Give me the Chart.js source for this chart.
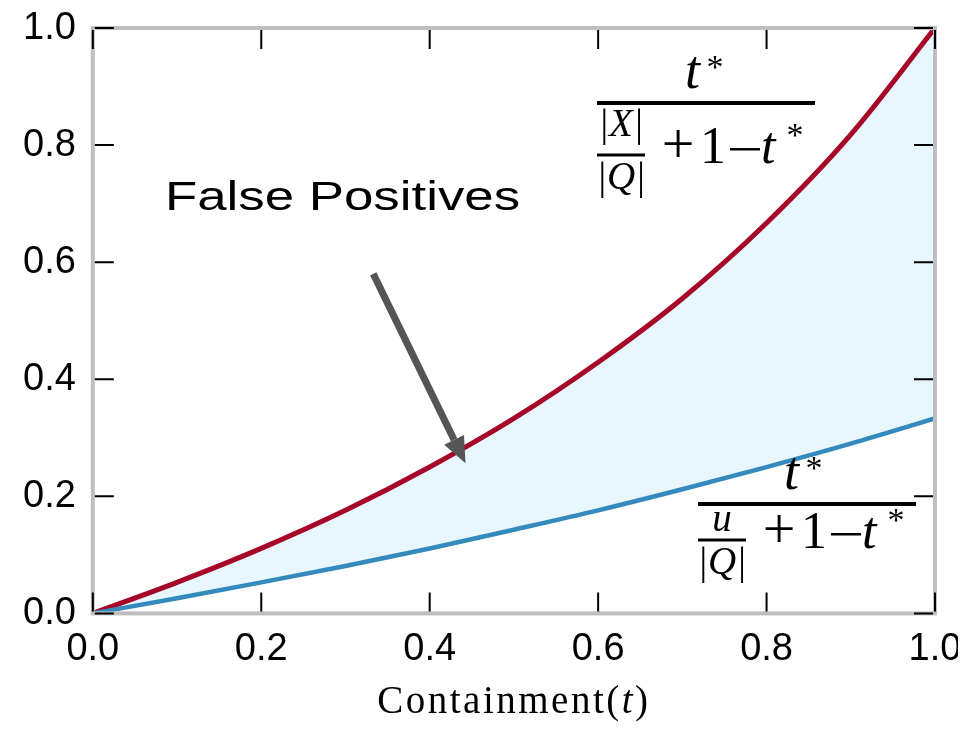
<!DOCTYPE html>
<html>
<head>
<meta charset="utf-8">
<script src="https://cdn.jsdelivr.net/npm/chart.js@4.4.1/dist/chart.umd.min.js"></script>
<style>
  html, body { margin: 0; padding: 0; background: #fff; }
  #wrap { width: 958px; height: 732px; overflow: hidden; }
</style>
</head>
<body>
<div id="wrap"><canvas id="chart" width="1000" height="732"></canvas></div>
<script>
// containment values
const containment = [0.0, 0.1, 0.2, 0.3, 0.4, 0.5, 0.6, 0.7, 0.8, 0.9, 1.0];
const upperBound = [0.0, 0.053, 0.111, 0.176, 0.25, 0.333, 0.429, 0.538, 0.667, 0.818, 1.0];
const lowerBound = [0.0, 0.026, 0.053, 0.081, 0.111, 0.143, 0.176, 0.212, 0.25, 0.29, 0.333];
const tickValues = [0.0, 0.2, 0.4, 0.6, 0.8, 1.0];

const RED = '#A60628';
const BLUE = '#348ABD';
const FILL = '#E8F7FD';
const FRAME = '#BEBEBE';
const SERIF = '"Liberation Serif", "DejaVu Serif", serif';

function pts(ys) {
  return containment.map(function (x, i) { return { x: x, y: ys[i] }; });
}

// frame + inward ticks on all four sides, like the matplotlib style
const framePlugin = {
  id: 'frame',
  afterDatasetsDraw: function (chart) {
    const ctx = chart.ctx, a = chart.chartArea;
    const xs = chart.scales.x, ys = chart.scales.y;
    ctx.save();
    ctx.strokeStyle = FRAME;
    ctx.lineWidth = 4;
    ctx.strokeRect(a.left, a.top, a.right - a.left, a.bottom - a.top);
    ctx.strokeStyle = '#000';
    ctx.lineWidth = 2;
    const len = 19;
    ctx.beginPath();
    tickValues.forEach(function (v) {
      const px = xs.getPixelForValue(v);
      ctx.moveTo(px, a.bottom - 2); ctx.lineTo(px, a.bottom - 2 - len);
      ctx.moveTo(px, a.top + 2); ctx.lineTo(px, a.top + 2 + len);
      const py = ys.getPixelForValue(v);
      ctx.moveTo(a.left + 2, py); ctx.lineTo(a.left + 2 + len, py);
      ctx.moveTo(a.right - 2, py); ctx.lineTo(a.right - 2 - len, py);
    });
    ctx.stroke();
    ctx.restore();
  }
};

function txt(ctx, s, x, y, font, align) {
  ctx.font = font;
  ctx.textAlign = align || 'left';
  ctx.fillText(s, x, y);
}

// t* / (small + 1 - t*), laid out glyph by glyph
function formula(ctx, left, bar, small, smallBase, smallBar, qBase, denBase, shift) {
  ctx.fillStyle = '#000';
  ctx.fillRect(left, bar - 2, 218, 4);
  txt(ctx, 't', left + 88 - shift, bar - 15, 'italic 54px ' + SERIF);
  txt(ctx, '*', left + 118 - shift, bar - 25, '34px ' + SERIF, 'center');
  ctx.fillRect(left, smallBar - 1.5, 48, 3);
  txt(ctx, small, left + 24, smallBase, 'italic 39px ' + SERIF, 'center');
  txt(ctx, '|Q|', left + 24, qBase, 'italic 39px ' + SERIF, 'center');
  txt(ctx, '+', left + 81, denBase, '58px ' + SERIF, 'center');
  txt(ctx, '1', left + 116, denBase, '52px ' + SERIF, 'center');
  ctx.fillRect(left + 133, denBase - 15, 30, 2.5);
  txt(ctx, 't', left + 164, denBase, 'italic 52px ' + SERIF);
  txt(ctx, '*', left + 198, denBase - 17, '34px ' + SERIF, 'center');
}

// annotations: arrow, label, the two formulas, axis title
const notesPlugin = {
  id: 'notes',
  afterDraw: function (chart) {
    const ctx = chart.ctx;
    const xs = chart.scales.x, ys = chart.scales.y;
    const X = function (v) { return xs.getPixelForValue(v); };
    const Y = function (v) { return ys.getPixelForValue(v); };
    ctx.save();

    // arrow
    const x0 = X(0.333), y0 = Y(0.58), x1 = X(0.4425), y1 = Y(0.2565);
    const ang = Math.atan2(y1 - y0, x1 - x0);
    const head = 26, hw = 11;
    const bx = x1 - head * Math.cos(ang), by = y1 - head * Math.sin(ang);
    ctx.strokeStyle = '#555';
    ctx.fillStyle = '#555';
    ctx.lineWidth = 7;
    ctx.beginPath(); ctx.moveTo(x0, y0); ctx.lineTo(bx, by); ctx.stroke();
    ctx.beginPath();
    ctx.moveTo(x1, y1);
    ctx.lineTo(bx + hw * Math.sin(ang), by - hw * Math.cos(ang));
    ctx.lineTo(bx - hw * Math.sin(ang), by + hw * Math.cos(ang));
    ctx.closePath(); ctx.fill();

    ctx.fillStyle = '#000';
    ctx.textBaseline = 'alphabetic';
    // the label in the reference is stretched sideways
    ctx.save();
    ctx.translate(165, 210);
    ctx.scale(1.32, 1);
    txt(ctx, 'False Positives', 0, 0, '40px "Liberation Sans", Arial, sans-serif');
    ctx.restore();

    formula(ctx, 597, 103, '|X|', 136, 155, 189, 163, 0);
    formula(ctx, 698, 504, 'u', 531, 540, 574, 548, 2);

    // axis title with italic t
    const a = chart.chartArea;
    ctx.letterSpacing = '2.5px';
    const parts = [['Containment(', ''], ['t', 'italic '], [')', '']];
    let total = 0;
    parts.forEach(function (p) {
      ctx.font = p[1] + '39px ' + SERIF;
      total += ctx.measureText(p[0]).width;
    });
    let cx = (a.left + a.right) / 2 - total / 2;
    ctx.textAlign = 'left';
    parts.forEach(function (p) {
      ctx.font = p[1] + '39px ' + SERIF;
      ctx.fillText(p[0], cx, 713);
      cx += ctx.measureText(p[0]).width;
    });
    ctx.restore();
  }
};

const xTickFont = { family: '"Liberation Sans", Arial, sans-serif', size: 38 };
const yTickFont = { family: '"Liberation Sans", Arial, sans-serif', size: 38, lineHeight: 0.58 };

new Chart(document.getElementById('chart'), {
  type: 'line',
  data: {
    datasets: [
      { data: pts(upperBound), borderColor: RED, borderWidth: 5, pointRadius: 0, order: 0,
        cubicInterpolationMode: 'monotone', fill: '+1', backgroundColor: FILL },
      { data: pts(lowerBound), borderColor: BLUE, borderWidth: 4.5, pointRadius: 0, order: -1,
        cubicInterpolationMode: 'monotone', fill: false }
    ]
  },
  options: {
    responsive: false,
    animation: false,
    layout: { padding: { left: 6, right: 65, top: 0, bottom: 47 } },
    plugins: { legend: { display: false }, tooltip: { enabled: false } },
    scales: {
      x: {
        type: 'linear', min: 0, max: 1,
        grid: { display: false, drawTicks: false },
        border: { display: false },
        ticks: { stepSize: 0.2, padding: 13, color: '#000', font: xTickFont,
          callback: function (v) { return v.toFixed(1); } }
      },
      y: {
        type: 'linear', min: 0, max: 1,
        grid: { display: false, drawTicks: false },
        border: { display: false },
        ticks: { stepSize: 0.2, padding: 17, color: '#000', font: yTickFont,
          callback: function (v) { return v.toFixed(1); } }
      }
    }
  },
  plugins: [framePlugin, notesPlugin]
});
</script>
</body>
</html>
